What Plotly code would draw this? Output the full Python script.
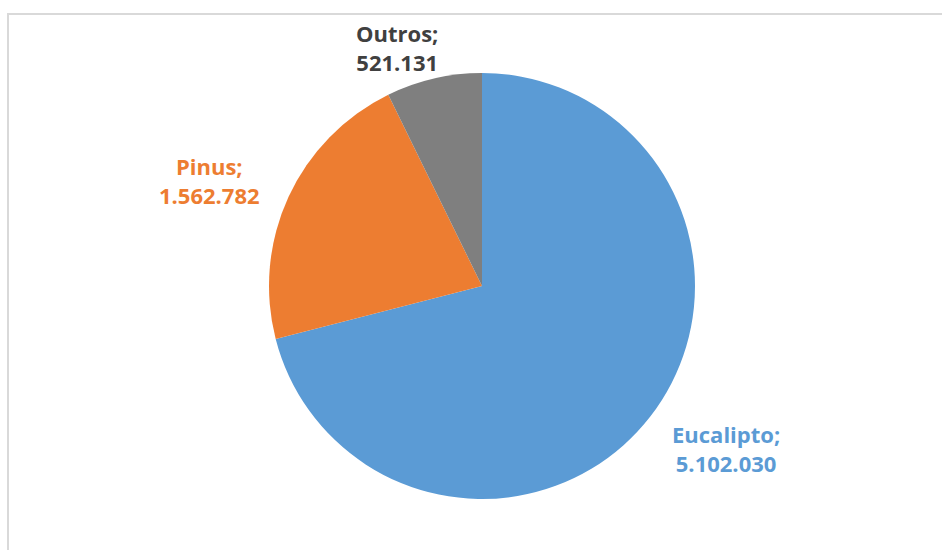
import plotly.graph_objects as go

categories = ["Eucalipto", "Pinus", "Outros"]
values = [5102030, 1562782, 521131]
colors = ["#5B9BD5", "#ED7D31", "#7F7F7F"]
label_colors = ["#5B9BD5", "#ED7D31", "#404040"]

W, H = 942, 550
cx, cy, r = 482, 286, 213

def fmt(v):
    return f"{v:,}".replace(",", ".")

fig = go.Figure()
fig.add_trace(go.Pie(
    labels=categories,
    values=values,
    sort=False,
    direction="clockwise",
    rotation=0,
    marker=dict(colors=colors, line=dict(width=0)),
    textinfo="none",
    hoverinfo="label+value",
    showlegend=False,
    domain=dict(x=[(cx - r) / W, (cx + r) / W], y=[1 - (cy + r) / H, 1 - (cy - r) / H]),
))

label_pos = [(726, 448), (209, 180), (397, 47)]
annotations = []
for name, val, col, (lx, ly) in zip(categories, values, label_colors, label_pos):
    annotations.append(dict(
        x=lx / W, y=1 - ly / H, xref="paper", yref="paper",
        text=f"<b>{name};<br>{fmt(val)}</b>",
        showarrow=False, xanchor="center", yanchor="middle", align="center",
        font=dict(family="Open Sans", size=22, color=col),
    ))

fig.update_layout(
    width=W, height=H,
    margin=dict(l=0, r=0, t=0, b=0),
    paper_bgcolor="white",
    plot_bgcolor="white",
    annotations=annotations,
    shapes=[dict(type="rect", xref="paper", yref="paper",
                 x0=8 / W, x1=1.05, y0=-0.05, y1=1 - 14 / H,
                 line=dict(color="#D9D9D9", width=2), fillcolor="rgba(0,0,0,0)", layer="below")],
)

fig.write_html("out.html")
